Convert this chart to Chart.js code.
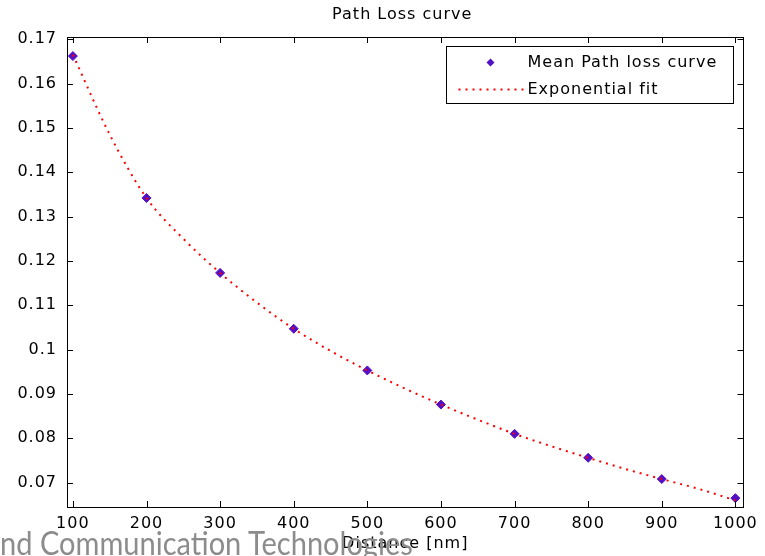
<!DOCTYPE html>
<html>
<head>
<meta charset="utf-8">
<script src="https://cdn.jsdelivr.net/npm/chart.js"></script>
<style>
  html, body { margin: 0; padding: 0; background: #fff; }
  #wrap { position: relative; width: 765px; height: 556px; overflow: hidden; }
  #slideText {
    position: absolute; left: 0; top: 523px;
    font-family: Lato, "Open Sans", sans-serif; font-size: 32px;
    color: #8c8c8c; white-space: nowrap; transform-origin: 0 0;
  }
</style>
</head>
<body>
<div id="wrap">
  <canvas id="plot" width="765" height="556"></canvas>
  <div id="slideText">nd Communication Technologies</div>
</div>
<script>
// distances (nm) of the measured points
const distances = [100, 200, 300, 400, 500, 600, 700, 800, 900, 1000];
const meanLoss = [0.1662, 0.1342, 0.1173, 0.1047, 0.0953, 0.0876, 0.0810, 0.0756, 0.0708, 0.0665];

// fit curve
const fitX = [100, 150, 200, 250, 300, 350, 400, 450, 500, 550, 600, 650, 700, 750, 800, 850, 900, 950, 1000];
const fitY = [0.1665, 0.1485, 0.1342, 0.1250, 0.1173, 0.1106, 0.1047, 0.0997, 0.0953, 0.0913, 0.0876, 0.0842, 0.0810, 0.0782, 0.0756, 0.0731, 0.0708, 0.0686, 0.0660];

const xTicks = [100, 200, 300, 400, 500, 600, 700, 800, 900, 1000];
const yTicks = [0.07, 0.08, 0.09, 0.1, 0.11, 0.12, 0.13, 0.14, 0.15, 0.16, 0.17];

const TITLE = "Path Loss curve";
const FONT = "'DejaVu Sans', sans-serif";
const SPACING = "1px"; // matlab's bitmap text runs a bit wide

// widen all canvas text a little
const letterSpace = {
  id: "letterSpace",
  beforeLayout(chart) { chart.ctx.letterSpacing = SPACING; },
  beforeDraw(chart) { chart.ctx.letterSpacing = SPACING; }
};

// MATLAB style box with inward ticks, title over the axes, legend inside
const matlabBox = {
  id: "matlabBox",
  afterDraw(chart) {
    const { ctx, chartArea: a, scales } = chart;
    const tl = 6;
    ctx.save();
    ctx.strokeStyle = "#000";
    ctx.lineWidth = 1;
    ctx.strokeRect(Math.round(a.left) + 0.5, Math.round(a.top) + 0.5,
      Math.round(a.right - a.left), Math.round(a.bottom - a.top));
    ctx.beginPath();
    scales.x.ticks.forEach((t) => {
      const px = Math.round(scales.x.getPixelForValue(t.value)) + 0.5;
      ctx.moveTo(px, a.bottom); ctx.lineTo(px, a.bottom - tl);
      ctx.moveTo(px, a.top); ctx.lineTo(px, a.top + tl);
    });
    scales.y.ticks.forEach((t) => {
      const py = Math.round(scales.y.getPixelForValue(t.value)) + 0.5;
      ctx.moveTo(a.left, py); ctx.lineTo(a.left + tl, py);
      ctx.moveTo(a.right, py); ctx.lineTo(a.right - tl, py);
    });
    ctx.stroke();

    ctx.font = "16px " + FONT;
    ctx.letterSpacing = SPACING;
    ctx.fillStyle = "#000";
    ctx.textBaseline = "middle";

    // title
    ctx.textAlign = "center";
    ctx.fillText(TITLE, (a.left + a.right) / 2 - 3, 15);
    ctx.textAlign = "left";

    // legend
    const ds = chart.data.datasets;
    const bx = Math.round(a.right) - 296.5, by = Math.round(a.top) + 9.5;
    const bw = 287, bh = 57;
    ctx.fillStyle = "#fff";
    ctx.fillRect(bx, by, bw, bh);
    ctx.strokeRect(bx, by, bw, bh);
    ctx.fillStyle = "#000";
    ctx.fillText(ds[0].label, bx + 81, by + 16);
    ctx.fillText(ds[1].label, bx + 81, by + 43);
    // marker
    const mx = bx + 44, my = by + 16, r = 4;
    ctx.fillStyle = ds[0].pointBackgroundColor;
    ctx.beginPath();
    ctx.moveTo(mx, my - r); ctx.lineTo(mx + r, my); ctx.lineTo(mx, my + r); ctx.lineTo(mx - r, my);
    ctx.closePath(); ctx.fill();
    // dotted line sample
    ctx.strokeStyle = ds[1].borderColor;
    ctx.lineWidth = 2;
    ctx.setLineDash(ds[1].borderDash);
    ctx.beginPath();
    ctx.moveTo(bx + 12, by + 43); ctx.lineTo(bx + 78, by + 43);
    ctx.stroke();
    ctx.restore();
  }
};

new Chart(document.getElementById("plot"), {
  type: "scatter",
  data: {
    datasets: [
      {
        label: "Mean Path loss curve",
        data: distances.map((d, i) => ({ x: d, y: meanLoss[i] })),
        pointStyle: "rectRot",
        pointRadius: 4.5,
        pointBackgroundColor: "#5410c4",
        pointBorderColor: "#5410c4",
        pointBorderWidth: 1,
        showLine: false,
        order: 2
      },
      {
        label: "Exponential fit",
        data: fitX.map((d, i) => ({ x: d, y: fitY[i] })),
        showLine: true,
        borderColor: "#ff0000",
        borderWidth: 2,
        borderDash: [2, 5],
        pointRadius: 0,
        cubicInterpolationMode: "monotone",
        order: 1
      }
    ]
  },
  options: {
    responsive: false,
    animation: false,
    layout: { padding: { left: 0, right: 21, top: 37, bottom: 0 } },
    plugins: {
      legend: { display: false },
      tooltip: { enabled: false },
      title: { display: false }
    },
    scales: {
      x: {
        type: "linear",
        min: 92,
        max: 1011,
        afterBuildTicks: (axis) => { axis.ticks = xTicks.map((v) => ({ value: v })); },
        afterFit: (axis) => { axis.height = 49; },
        grid: { display: false, drawTicks: false },
        border: { display: false },
        ticks: {
          color: "#000",
          padding: 7,
          maxRotation: 0,
          autoSkip: false,
          font: { family: FONT, size: 16 },
          callback: (v) => String(v)
        },
        title: {
          display: true,
          text: "Distance [nm]",
          color: "#000",
          font: { family: FONT, size: 16 },
          padding: { top: 0, bottom: 3 }
        }
      },
      y: {
        min: 0.0645,
        max: 0.1705,
        afterBuildTicks: (axis) => { axis.ticks = yTicks.map((v) => ({ value: v })); },
        afterFit: (axis) => { axis.width = 67; },
        grid: { display: false, drawTicks: false },
        border: { display: false },
        ticks: {
          color: "#000",
          padding: 10,
          autoSkip: false,
          font: { family: FONT, size: 16 },
          callback: (v) => String(Number(v.toFixed(2)))
        }
      }
    }
  },
  plugins: [letterSpace, matlabBox]
});

// squeeze the slide footer text to the width it has in the picture
const st = document.getElementById("slideText");
st.style.transform = "scaleX(" + (413 / st.scrollWidth) + ")";
</script>
</body>
</html>
